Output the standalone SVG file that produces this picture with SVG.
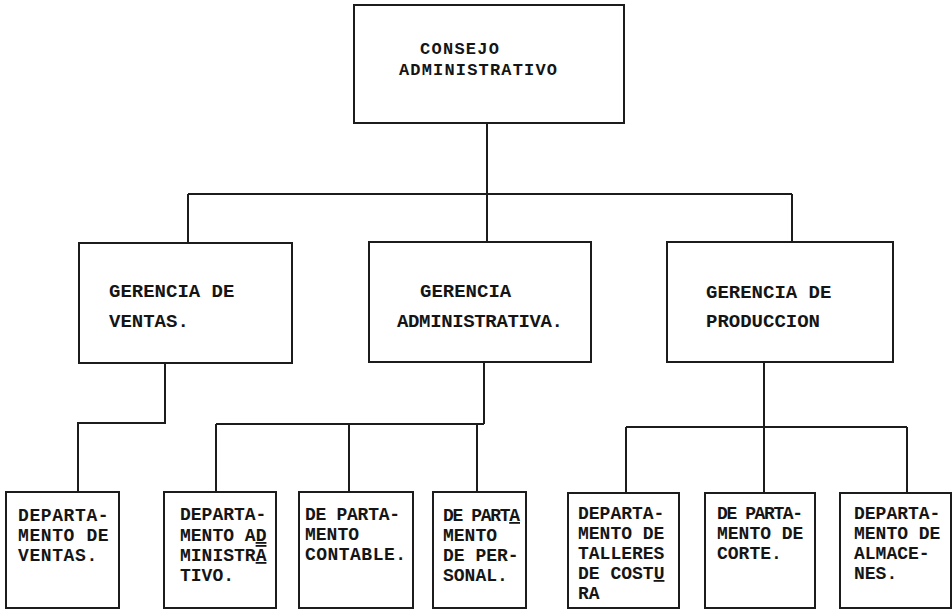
<svg xmlns="http://www.w3.org/2000/svg" width="952" height="610" viewBox="0 0 952 610">
<style>
.box{fill:#fff;stroke:#1c1c1c;stroke-width:2}
.ln{fill:none;stroke:#1c1c1c;stroke-width:2}
.t{font-family:"Liberation Mono","DejaVu Sans Mono",monospace;font-weight:bold;fill:#151515}
.m{font-size:19px}
.c{font-size:17px}
.s{font-size:18px}
.u{text-decoration:underline}
.uo{text-decoration:underline overline}
</style>
<rect width="952" height="610" fill="#fff"/>
<g id="connectors">
<path class="ln" d="M487 123V194M188 194H792M188 194V243M487 194V242M792 194V242"/>
<path class="ln" d="M165 363V423H78V492"/>
<path class="ln" d="M484 362V424M216 424H484M216 424V492M349 424V492M477 424V492"/>
<path class="ln" d="M764 362V427M626 427H907M626 427V493M764 427V493M907 427V493"/>
</g>
<g id="consejo">
<rect class="box" x="354" y="5" width="270" height="118"/>
<text class="t c" x="420" y="54" textLength="79">CONSEJO</text>
<text class="t c" x="399" y="75" textLength="158">ADMINISTRATIVO</text>
</g>
<g id="gerencia-ventas">
<rect class="box" x="79" y="243" width="213" height="120"/>
<text class="t m" x="109" y="297">GERENCIA DE</text>
<text class="t m" x="109" y="327">VENTAS.</text>
</g>
<g id="gerencia-administrativa">
<rect class="box" x="369" y="242" width="222" height="120"/>
<text class="t m" x="420" y="297">GERENCIA</text>
<text class="t m" x="397" y="327" textLength="166">ADMINISTRATIVA.</text>
</g>
<g id="gerencia-produccion">
<rect class="box" x="667" y="242" width="226" height="120"/>
<text class="t m" x="706" y="298">GERENCIA DE</text>
<text class="t m" x="706" y="327">PRODUCCION</text>
</g>
<g id="depto-ventas">
<rect class="box" x="6" y="492" width="113" height="116"/>
<text class="t s" x="18" y="521" letter-spacing="0.6">DEPARTA-</text>
<text class="t s" x="18" y="541" letter-spacing="0.6">MENTO DE</text>
<text class="t s" x="18" y="561" letter-spacing="0.6">VENTAS.</text>
</g>
<g id="depto-administrativo">
<rect class="box" x="164" y="492" width="112" height="116"/>
<text class="t s" x="180" y="520">DEPARTA-</text>
<text class="t s" x="180" y="541">MENTO A<tspan class="u">D</tspan></text>
<text class="t s" x="180" y="561">MINISTR<tspan class="uo">A</tspan></text>
<text class="t s" x="180" y="581">TIVO.</text>
</g>
<g id="depto-contable">
<rect class="box" x="299" y="492" width="114" height="116"/>
<text class="t s" x="305" y="520" textLength="95">DE PARTA-</text>
<text class="t s" x="305" y="540">MENTO</text>
<text class="t s" x="305" y="560" textLength="101">CONTABLE.</text>
</g>
<g id="depto-personal">
<rect class="box" x="433" y="492" width="93" height="116"/>
<text class="t s" x="443" y="521" textLength="77">DE PART<tspan class="u">A</tspan></text>
<text class="t s" x="443" y="541">MENTO</text>
<text class="t s" x="443" y="561">DE PER-</text>
<text class="t s" x="443" y="581">SONAL.</text>
</g>
<g id="depto-talleres">
<rect class="box" x="568" y="493" width="111" height="115"/>
<text class="t s" x="578" y="519">DEPARTA-</text>
<text class="t s" x="578" y="539">MENTO DE</text>
<text class="t s" x="578" y="559">TALLERES</text>
<text class="t s" x="578" y="579">DE COST<tspan class="u">U</tspan></text>
<text class="t s" x="578" y="599">RA</text>
</g>
<g id="depto-corte">
<rect class="box" x="705" y="493" width="110" height="115"/>
<text class="t s" x="717" y="519" textLength="86">DE PARTA-</text>
<text class="t s" x="717" y="539">MENTO DE</text>
<text class="t s" x="717" y="559">CORTE.</text>
</g>
<g id="depto-almacenes">
<rect class="box" x="840" y="493" width="111" height="115"/>
<text class="t s" x="854" y="519">DEPARTA-</text>
<text class="t s" x="854" y="539">MENTO DE</text>
<text class="t s" x="854" y="559">ALMACE-</text>
<text class="t s" x="854" y="579">NES.</text>
</g>
</svg>
